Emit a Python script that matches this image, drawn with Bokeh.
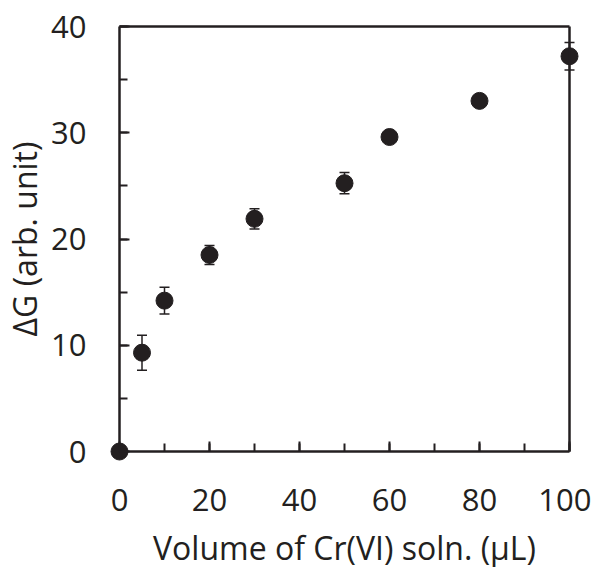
import numpy as np
from bokeh.plotting import figure
from bokeh.models import (ColumnDataSource, Whisker, TeeHead, FixedTicker,
                          LinearAxis, CustomJSTickFormatter)
from bokeh.embed import file_html
from bokeh.resources import INLINE

# Data
volume = [0, 5, 10, 20, 30, 50, 60, 80, 100]
delta_g = [0.0, 9.3, 14.2, 18.5, 21.9, 25.25, 29.6, 33.0, 37.2]
err = [0.0, 1.65, 1.27, 0.9, 0.95, 1.0, 0.4, 0.5, 1.3]
x_ticks = [0, 20, 40, 60, 80, 100]
x_minor = [0, 10, 20, 30, 40, 50, 60, 70, 80, 90, 100]
y_ticks = [0, 10, 20, 30, 40]
y_minor = [0, 5, 10, 15, 20, 25, 30, 35, 40]
x_lim = (0, 100)
y_lim = (0, 40)

INK = "#231f20"
FONT = "Open Sans"

src = ColumnDataSource(dict(
    x=volume, y=delta_g,
    lo=[v - e for v, e in zip(delta_g, err)],
    hi=[v + e for v, e in zip(delta_g, err)],
))

# small padding (in px) so edge markers are not clipped
PAD = 10
FW, FH = 450, 425
xpad = PAD * (x_lim[1] - x_lim[0]) / FW
ypad = PAD * (y_lim[1] - y_lim[0]) / FH

p = figure(frame_width=FW + 2 * PAD, frame_height=FH + 2 * PAD,
           x_range=(x_lim[0] - xpad, x_lim[1] + xpad),
           y_range=(y_lim[0] - ypad, y_lim[1] + ypad),
           output_backend="svg", toolbar_location=None,
           min_border_left=108, min_border_right=12,
           min_border_top=16, min_border_bottom=90)
p.grid.visible = False
p.outline_line_color = None

w = Whisker(source=src, base="x", lower="lo", upper="hi",
            line_color=INK, line_width=1.5,
            upper_head=TeeHead(size=10, line_color=INK, line_width=1.5),
            lower_head=TeeHead(size=10, line_color=INK, line_width=1.5))
p.add_layout(w)
p.scatter("x", "y", source=src, size=17, fill_color=INK, line_color=INK)

# regular axes: only tick labels + axis titles
xa, ya = p.xaxis[0], p.yaxis[0]
for ax in (xa, ya):
    ax.axis_line_color = None
    ax.major_tick_line_color = None
    ax.minor_tick_line_color = None
    ax.major_tick_in = 0
    ax.major_tick_out = 0
    ax.minor_tick_in = 0
    ax.minor_tick_out = 0
    ax.major_label_text_font = FONT
    ax.major_label_text_font_size = "31px"
    ax.major_label_text_color = INK
    ax.axis_label_text_font = FONT
    ax.axis_label_text_font_size = "32px"
    ax.axis_label_text_font_style = "normal"
    ax.axis_label_text_color = INK
xa.ticker = FixedTicker(ticks=x_ticks, minor_ticks=[])
ya.ticker = FixedTicker(ticks=y_ticks, minor_ticks=[])
xa.major_label_standoff = 27
ya.major_label_standoff = 23
xa.axis_label = "Volume of Cr(VI) soln. (µL)"
xa.axis_label_standoff = 12
ya.axis_label = "ΔG (arb. unit)"
ya.axis_label_standoff = 2

# box axes at the data limits: line + inward ticks
blank = CustomJSTickFormatter(code="return ''")
bx = LinearAxis(fixed_location=y_lim[0], bounds=x_lim,
                ticker=FixedTicker(ticks=x_ticks, minor_ticks=x_minor))
by = LinearAxis(fixed_location=x_lim[0], bounds=y_lim,
                ticker=FixedTicker(ticks=y_ticks, minor_ticks=y_minor))
bt = LinearAxis(fixed_location=y_lim[1], bounds=x_lim,
                ticker=FixedTicker(ticks=[], minor_ticks=[]))
br = LinearAxis(fixed_location=x_lim[1], bounds=y_lim,
                ticker=FixedTicker(ticks=[], minor_ticks=[]))
for ax in (bx, by, bt, br):
    ax.formatter = blank
    ax.axis_line_color = INK
    ax.axis_line_width = 2.5
    ax.major_tick_line_color = INK
    ax.minor_tick_line_color = INK
    ax.major_tick_line_width = 2
    ax.minor_tick_line_width = 2
    ax.major_tick_in = 10
    ax.major_tick_out = 0
    ax.minor_tick_in = 8
    ax.minor_tick_out = 0
    ax.major_label_standoff = 0
    ax.major_label_text_font_size = "1px"
p.add_layout(bx, "below")
p.add_layout(by, "left")
p.add_layout(bt, "above")
p.add_layout(br, "right")

open("out.html", "w").write(file_html(p, INLINE))
